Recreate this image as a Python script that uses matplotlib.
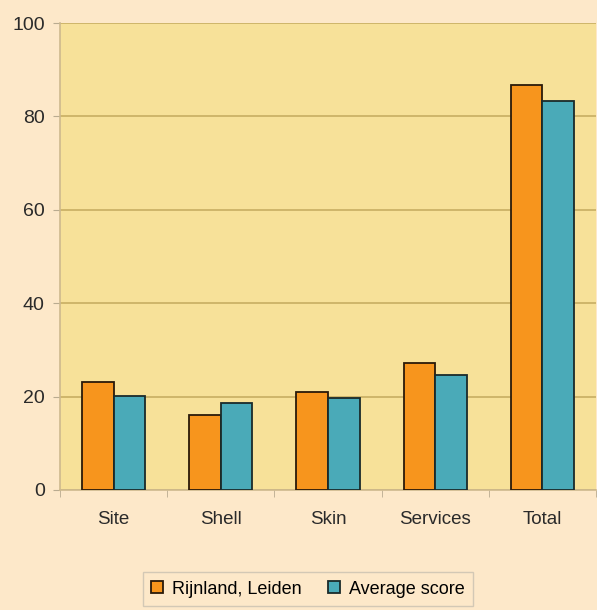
import numpy as np
import matplotlib.pyplot as plt

categories = ['Site', 'Shell', 'Skin', 'Services', 'Total']
rijnland = [23.1, 16.0, 21.0, 27.2, 86.8]
average = [20.1, 18.7, 19.7, 24.6, 83.2]
yticks = [0, 20, 40, 60, 80, 100]

plt.rcParams['font.family'] = ['Liberation Sans', 'DejaVu Sans']

fig = plt.figure(figsize=(5.97, 6.10), dpi=100, facecolor='#fde8c9')
ax = fig.add_axes([60 / 597, 1 - 490 / 610, 536 / 597, 467 / 610])
ax.set_facecolor('#f7e199')

x = np.arange(len(categories))
w = 0.295
ax.bar(x - w / 2, rijnland, w, color='#f7951d', edgecolor='#2a1a0a', linewidth=1.3,
       label='Rijnland, Leiden', zorder=3)
ax.bar(x + w / 2, average, w, color='#4aaab8', edgecolor='#1a2a2a', linewidth=1.3,
       label='Average score', zorder=3)

ax.set_xlim(-0.5, len(categories) - 0.5)
ax.set_ylim(0, 100)
ax.set_yticks(yticks)
ax.set_xticks(x)
ax.set_xticklabels(categories)
ax.set_xticks(np.arange(len(categories) + 1) - 0.5, minor=True)
ax.tick_params(axis='x', which='major', length=0, pad=15, labelsize=13.5, colors='#2a2a2a')
ax.tick_params(axis='x', which='minor', length=5, color='#b9ab90')
ax.tick_params(axis='y', length=5, color='#b9ab90', labelsize=14, colors='#2a2a2a', pad=6)
ax.grid(axis='y', color='#c8ae62', linewidth=1.2, zorder=0)

for s in ['top', 'right']:
    ax.spines[s].set_visible(False)
ax.spines['left'].set_color('#cdb98e')
ax.spines['bottom'].set_color('#cdb98e')
ax.spines['left'].set_linewidth(1.2)
ax.spines['bottom'].set_linewidth(1.2)

leg = fig.legend(loc='center', bbox_to_anchor=(308 / 597, 1 - 589 / 610), ncol=2,
                 fontsize=13, frameon=True, fancybox=False, handlelength=0.65,
                 handleheight=0.65, handletextpad=0.5, columnspacing=1.5,
                 borderpad=0.45)
leg.get_frame().set_facecolor('#fde8c9')
leg.get_frame().set_edgecolor('#c9c0b0')

fig.savefig('out.png', dpi=100, facecolor=fig.get_facecolor())
